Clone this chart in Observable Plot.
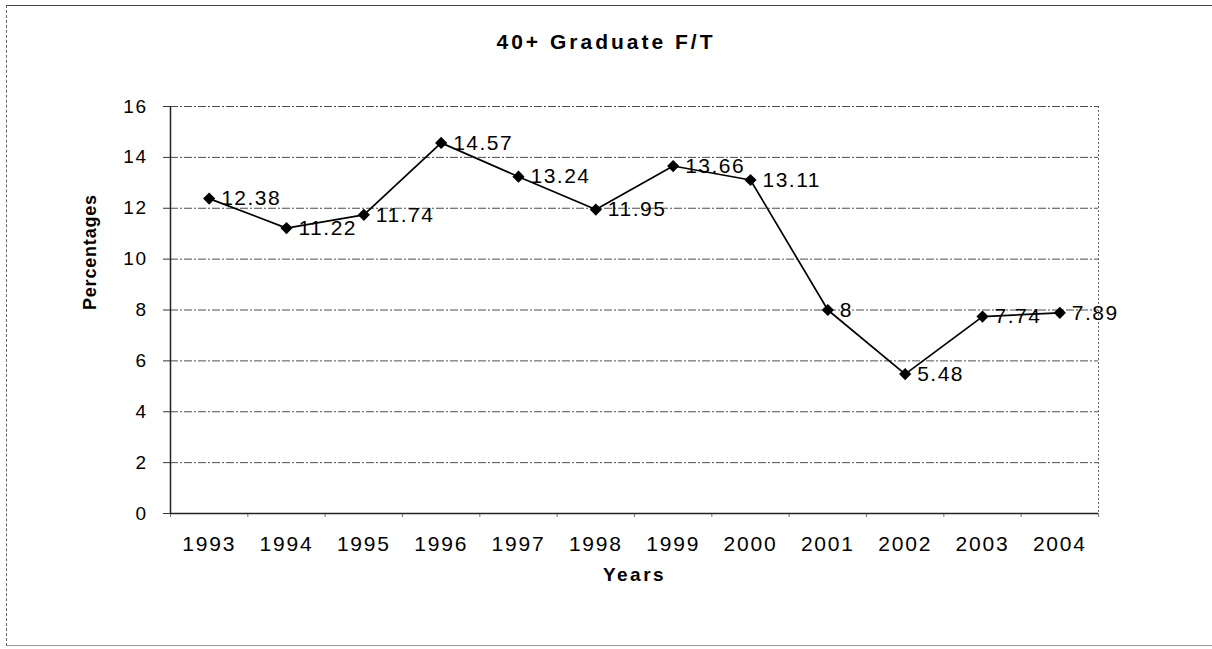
<!DOCTYPE html>
<html>
<head>
<meta charset="utf-8">
<script src="https://cdn.jsdelivr.net/npm/d3@7"></script>
<script src="https://cdn.jsdelivr.net/npm/@observablehq/plot@0.6"></script>
<style>
  html, body { margin: 0; padding: 0; background: #fff; }
  #frame {
    position: relative; width: 1212px; height: 649px; overflow: hidden;
    font-family: "Liberation Sans", Arial, sans-serif;
  }
  #border {
    position: absolute; left: 6px; top: 5px; width: 1220px; height: 641px;
    border-left: 1px dashed #666; border-top: 1.5px solid #444; border-bottom: 1px solid #999;
    box-sizing: border-box;
  }
  #title {
    position: absolute; top: 30px; left: 0; width: 1212px; text-align: center;
    font-weight: bold; font-size: 21px; letter-spacing: 3px; line-height: 24px; color: #000;
  }
  #chart { position: absolute; left: 0; top: 62px; }
</style>
</head>
<body>
<div id="frame">
  <div id="border"></div>
  <div id="title">40+ Graduate F/T</div>
  <div id="chart"></div>
</div>
<script>
const years = [1993, 1994, 1995, 1996, 1997, 1998, 1999, 2000, 2001, 2002, 2003, 2004];
const values = [12.38, 11.22, 11.74, 14.57, 13.24, 11.95, 13.66, 13.11, 8, 5.48, 7.74, 7.89];
const valueLabels = ["12.38", "11.22", "11.74", "14.57", "13.24", "11.95", "13.66", "13.11", "8", "5.48", "7.74", "7.89"];
const yTicks = [0, 2, 4, 6, 8, 10, 12, 14, 16];
const xTitle = "Years";
const yTitle = "Percentages";

const data = years.map((yr, i) => ({year: yr, value: values[i], label: valueLabels[i]}));
const boundaries = years.map(y => y - 0.5).concat([years[years.length - 1] + 0.5]);
const x0 = boundaries[0], x1 = boundaries[boundaries.length - 1];

const chart = Plot.plot({
  width: 1212,
  height: 560,
  marginTop: 44,
  marginBottom: 109,
  marginLeft: 170,
  marginRight: 114,
  x: {type: "linear", domain: [x0, x1]},
  y: {domain: [0, 16]},
  style: {fontFamily: "'Liberation Sans', Arial, sans-serif", color: "#000", background: "transparent", overflow: "visible"},
  marks: [
    Plot.gridY(yTicks.filter(d => d > 0), {stroke: "#222", strokeOpacity: 0.8, strokeDasharray: "8,2,2,2", strokeWidth: 1}),
    Plot.ruleX([x1], {stroke: "#666", strokeDasharray: "2,2", strokeWidth: 1}),
    Plot.axisY(yTicks, {tickSize: 7, tickPadding: 16, fontSize: 19, label: null, stroke: "#333", tickFormat: d => String(d)}),
    Plot.axisX(boundaries, {tickSize: 4, tickFormat: () => "", label: null, stroke: "#777"}),
    Plot.axisX(years, {tickSize: 0, tickPadding: 23, fontSize: 21, label: null, tickFormat: d => String(d)}),
    Plot.ruleY([0], {stroke: "#222", strokeWidth: 1.5}),
    Plot.ruleX([x0], {stroke: "#222", strokeWidth: 1.5}),
    Plot.line(data, {x: "year", y: "value", stroke: "#000", strokeWidth: 1.7}),
    Plot.dot(data, {x: "year", y: "value", symbol: "diamond2", r: 5.5, fill: "#000", stroke: "none"}),
    Plot.text(data, {x: "year", y: "value", text: "label", dx: 12, textAnchor: "start", lineAnchor: "middle", fontSize: 21, fill: "#000"}),
    Plot.text([xTitle], {frameAnchor: "bottom", dy: 67, text: d => d, fontSize: 19, fontWeight: "bold", fill: "#000"}),
    Plot.text([yTitle], {frameAnchor: "left", dx: -80, rotate: -90, text: d => d, fontSize: 18, fontWeight: "bold", fill: "#000"})
  ]
});

document.getElementById("chart").appendChild(chart);

// letter spacing tweaks to mimic the horizontally stretched scan
const svg = d3.select(chart);
svg.selectAll('g[aria-label="x-axis tick label"] text').style("letter-spacing", "1.8px");
svg.selectAll('g[aria-label="y-axis tick label"] text').style("letter-spacing", "1.5px");
const textGroups = svg.selectAll('g[aria-label="text"]').nodes();
if (textGroups[0]) d3.select(textGroups[0]).selectAll("text").style("letter-spacing", "1.5px");
if (textGroups[1]) d3.select(textGroups[1]).selectAll("text").style("letter-spacing", "2.5px");
if (textGroups[2]) d3.select(textGroups[2]).selectAll("text").style("letter-spacing", "0.8px");
</script>
</body>
</html>
